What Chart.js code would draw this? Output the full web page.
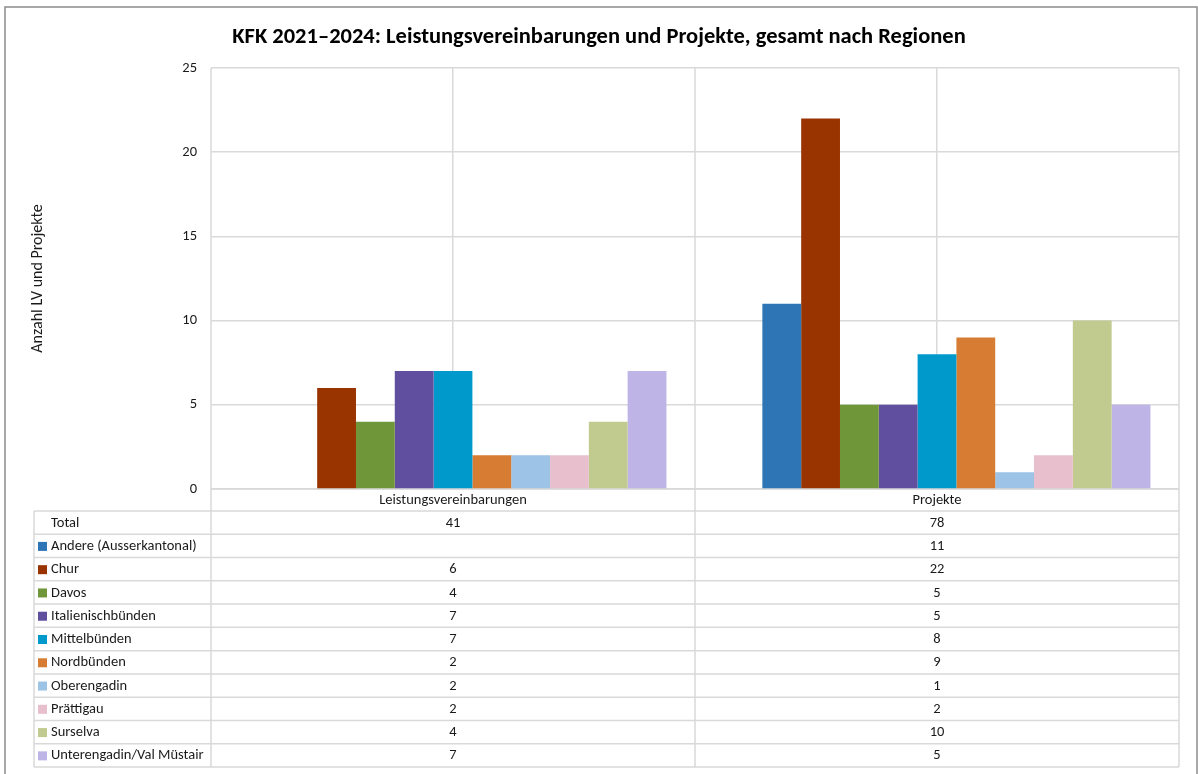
<!DOCTYPE html>
<html><head><meta charset="utf-8">
<script src="https://cdn.jsdelivr.net/npm/chart.js@4.4.1/dist/chart.umd.min.js"></script>
<style>html,body{margin:0;padding:0;background:#fff;overflow:hidden}#wrap{width:1198px;height:774px;position:relative}</style>
</head><body><div id="wrap"><canvas id="c" width="1198" height="774"></canvas></div>
<script>
const categories = ['Leistungsvereinbarungen', 'Projekte'];
const totals = [41, 78];
const regions = ['Andere (Ausserkantonal)', 'Chur', 'Davos', 'Italienischbünden', 'Mittelbünden', 'Nordbünden', 'Oberengadin', 'Prättigau', 'Surselva', 'Unterengadin/Val Müstair'];
const andere = [null, 11];
const chur = [6, 22];
const davos = [4, 5];
const italienischbuenden = [7, 5];
const mittelbuenden = [7, 8];
const nordbuenden = [2, 9];
const oberengadin = [2, 1];
const praettigau = [2, 2];
const surselva = [4, 10];
const unterengadin = [7, 5];
const seriesValues = [andere, chur, davos, italienischbuenden, mittelbuenden, nordbuenden, oberengadin, praettigau, surselva, unterengadin];
const regionColors = ['#2E75B6', '#993300', '#70963A', '#604E9F', '#0099CC', '#D67D33', '#9DC3E6', '#E8BFCD', '#C1CA8F', '#BEB4E6'];
const yTicks = [0, 5, 10, 15, 20, 25];

const FONT = "Carlito, Lato, 'Open Sans', sans-serif";
const GRID = '#d9d9d9';
const TXT = '#1a1a1a';

const datasets = [{
  label: 'Total', data: [null, null], backgroundColor: 'rgba(0,0,0,0)', borderWidth: 0
}].concat(regions.map((r, i) => ({
  label: r, data: seriesValues[i], backgroundColor: regionColors[i], borderWidth: 0
})));

const framePlugin = {
  id: 'frame',
  beforeDatasetsDraw(chart) {
    const ctx = chart.ctx, x = chart.scales.x, a = chart.chartArea;
    const rowTop = 511, rowH = (767 - 511) / 11;
    const bottom = rowTop + rowH * 11;
    ctx.save();
    ctx.strokeStyle = GRID; ctx.lineWidth = 1.5;
    const half = (x.getPixelForValue(1) - x.getPixelForValue(0)) / 2;
    const bounds = [x.getPixelForValue(0) - half, x.getPixelForValue(0) + half, x.getPixelForValue(1) + half];
    ctx.beginPath();
    bounds.forEach(b => { ctx.moveTo(b, a.top); ctx.lineTo(b, bottom); });
    ctx.moveTo(a.left, a.bottom); ctx.lineTo(a.right, a.bottom);
    ctx.stroke();
    ctx.restore();
  },
  afterDraw(chart) {
    const ctx = chart.ctx, x = chart.scales.x, a = chart.chartArea;
    const rowTop = 511, rowH = (767 - 511) / 11, left = 34;
    const bottom = rowTop + rowH * 11;
    ctx.save();
    ctx.strokeStyle = GRID; ctx.lineWidth = 1.5;
    ctx.beginPath();
    for (let i = 0; i <= 11; i++) {
      const y = rowTop + rowH * i;
      ctx.moveTo(left, y); ctx.lineTo(a.right, y);
    }
    ctx.moveTo(left, rowTop); ctx.lineTo(left, bottom);
    ctx.stroke();
    ctx.font = '14.5px ' + FONT;
    ctx.textBaseline = 'middle';
    const rows = [{ label: 'Total', vals: totals, color: null }].concat(regions.map((r, i) => ({ label: r, vals: seriesValues[i], color: regionColors[i] })));
    rows.forEach((row, i) => {
      const cy = rowTop + rowH * i + rowH / 2 + 0.5;
      if (row.color) {
        ctx.fillStyle = row.color;
        ctx.fillRect(38, cy - 4.5, 9, 9);
      }
      ctx.fillStyle = TXT;
      ctx.textAlign = 'left';
      ctx.fillText(row.label, 51, cy);
      ctx.textAlign = 'center';
      row.vals.forEach((v, j) => {
        if (v !== null && v !== undefined) ctx.fillText(String(v), x.getPixelForValue(j), cy);
      });
    });
    ctx.strokeStyle = '#8c8c8c'; ctx.lineWidth = 1.5;
    ctx.beginPath();
    ctx.moveTo(5, 780); ctx.lineTo(5, 7); ctx.lineTo(1197, 7); ctx.lineTo(1197, 780);
    ctx.stroke();
    ctx.restore();
  }
};

new Chart(document.getElementById('c'), {
  type: 'bar',
  data: { labels: categories, datasets },
  plugins: [framePlugin],
  options: {
    responsive: false,
    devicePixelRatio: 1,
    animation: false,
    layout: { padding: 0 },
    datasets: { bar: { categoryPercentage: 0.882, barPercentage: 1 } },
    plugins: {
      legend: { display: false },
      tooltip: { enabled: false },
      title: {
        display: true,
        text: 'KFK 2021–2024: Leistungsvereinbarungen und Projekte, gesamt nach Regionen',
        font: { family: FONT, size: 22.5, weight: 'bold' },
        color: '#000000',
        padding: { top: 23.5, bottom: 17.5 }
      }
    },
    scales: {
      x: {
        afterFit(s) { s.height = 285; },
        grid: { display: true, offset: false, drawTicks: false, color: GRID, lineWidth: 1.5 },
        border: { display: false },
        ticks: { font: { family: FONT, size: 14.5 }, color: TXT, padding: 3 }
      },
      y: {
        min: 0, max: 25,
        afterFit(s) { s.width = 211; },
        afterBuildTicks(s) { s.ticks = yTicks.map(v => ({ value: v })); },
        grid: { color: GRID, lineWidth: 1.5, drawTicks: false },
        border: { display: false },
        ticks: { font: { family: FONT, size: 14.5 }, color: TXT, padding: 14 },
        title: {
          display: true, text: 'Anzahl LV und Projekte',
          font: { family: FONT, size: 16 }, color: TXT,
          padding: { top: 28.5, bottom: 0 }
        }
      },
      yRight: {
        position: 'right',
        display: true,
        afterFit(s) { s.width = 19; },
        grid: { display: false, drawTicks: false },
        border: { display: false },
        ticks: { display: false }
      }
    }
  }
});
</script></body></html>
